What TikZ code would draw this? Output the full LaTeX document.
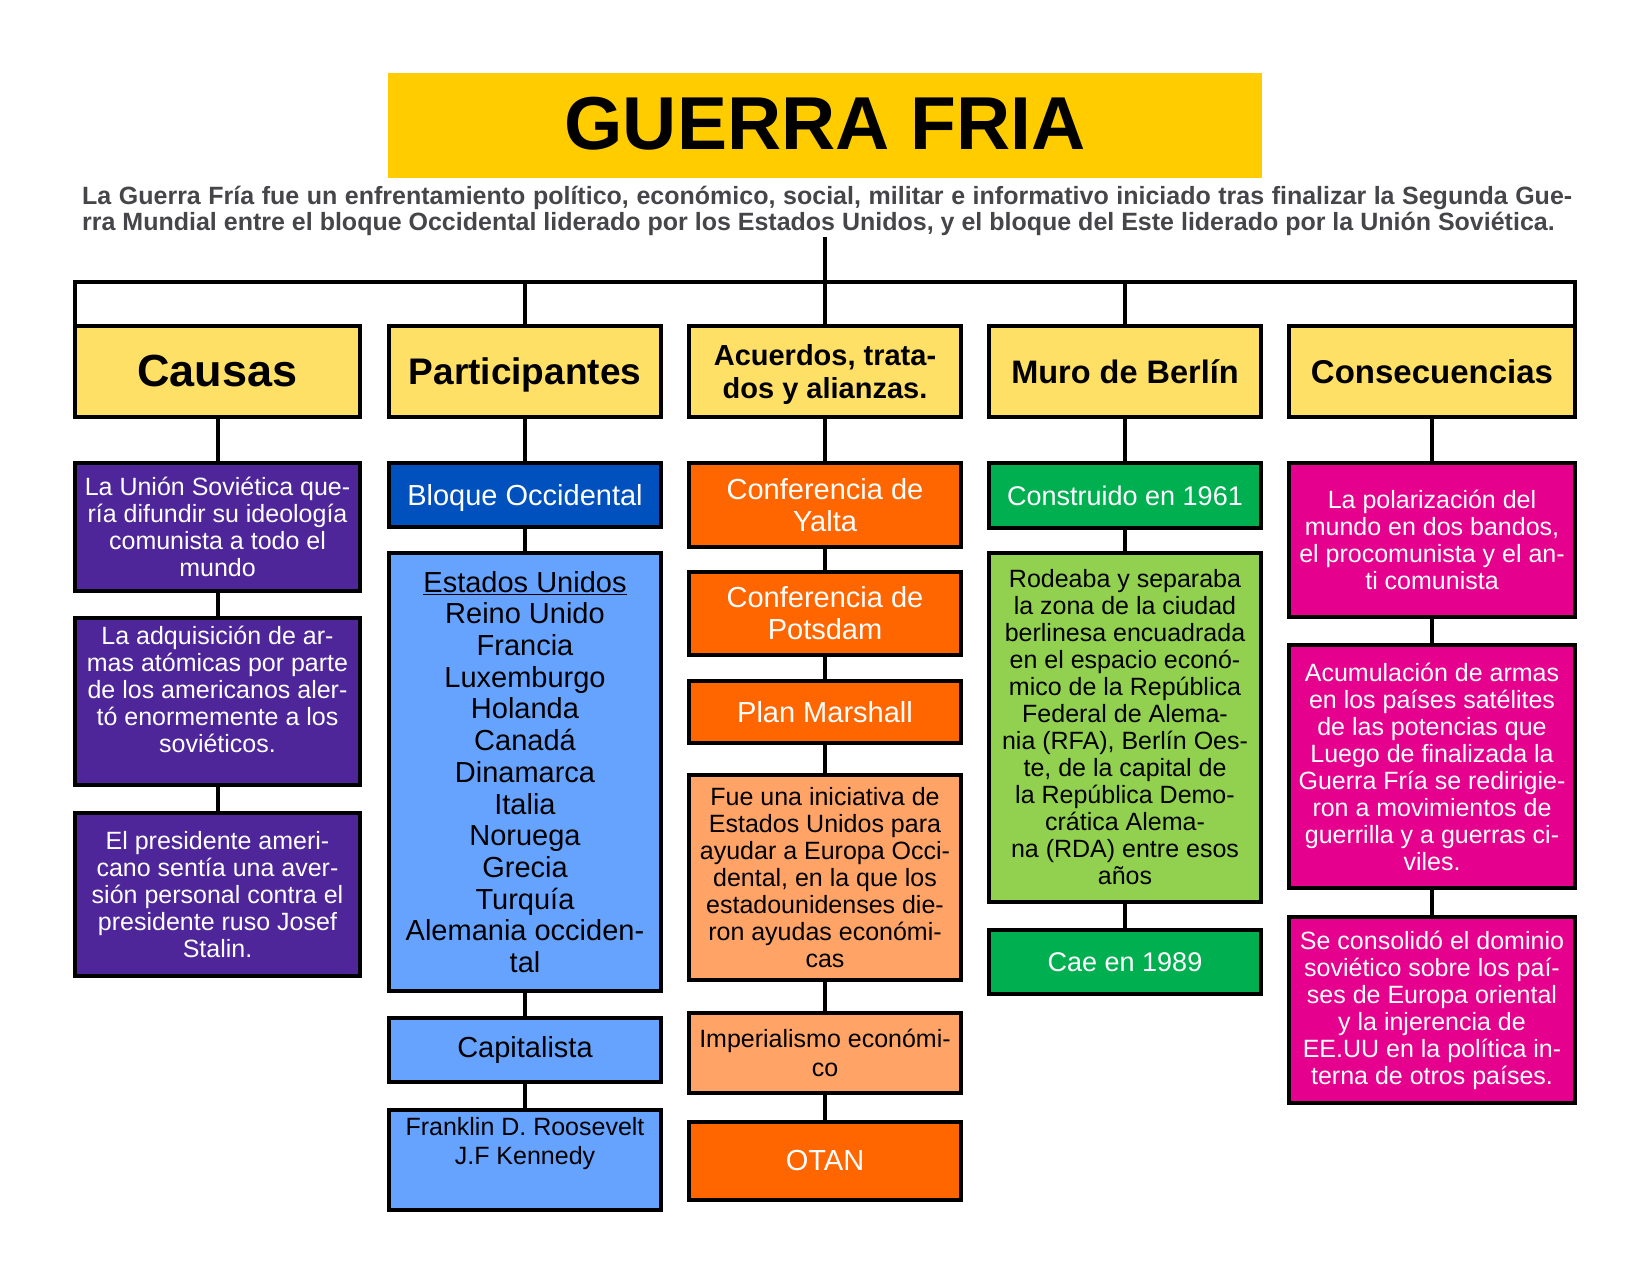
\documentclass[tikz,border=0pt]{standalone}
\usepackage{fontspec}
\setmainfont{Liberation Sans}
\definecolor{titleY}{HTML}{FFCC00}
\definecolor{hdrY}{HTML}{FFE066}
\definecolor{descG}{HTML}{46464A}
\definecolor{purp}{HTML}{4E2699}
\definecolor{dblue}{HTML}{0050BE}
\definecolor{lblue}{HTML}{66A3FF}
\definecolor{orng}{HTML}{FF6600}
\definecolor{lorng}{HTML}{FFA366}
\definecolor{grn}{HTML}{00B050}
\definecolor{lgrn}{HTML}{92D050}
\definecolor{mgnt}{HTML}{E6008E}
\newcommand\myfs[2]{\fontsize{#1}{#2}\selectfont}
% name, x1, y1, x2, y2, style, text
\newcommand\bx[7]{\node[#6, minimum width={(#4-#2)*1pt}, minimum height={(#5-#3)*1pt}] (#1) at ({(#2+#4)/2},{(#3+#5)/2}) {#7};}
\tikzset{
  box/.style={draw=black, line width=4pt, inner sep=0pt, align=center},
  hdr/.style={box, fill=hdrY, text=black},
  conn/.style={draw=black, line width=4pt},
  wtxt/.style={text=white, font=\myfs{25}{27}},
  btxt/.style={text=black, font=\myfs{25}{27}},
}
\begin{document}
\begin{tikzpicture}[x=1pt,y=-1pt]
\useasboundingbox[fill=white] (0,0) rectangle (1650,1275);
% title
\node[fill=titleY, inner sep=0pt, minimum width=874pt, minimum height=105pt] (title) at (825,125.5) {};
\node[anchor=base, inner sep=0pt, font=\bfseries\myfs{75}{80}] (titletxt) at (825,149) {GUERRA FRIA};
% description
\node[anchor=base west, inner sep=0pt, text=descG, font=\bfseries\myfs{25}{26}] (desc1) at (82,204)
  {\makebox[1490pt][s]{La Guerra Fría fue un enfrentamiento político, económico, social, militar e informativo iniciado tras finalizar la Segunda Gue-}};
\node[anchor=base west, inner sep=0pt, text=descG, font=\bfseries\myfs{25}{26}] (desc2) at (82,230)
  {rra Mundial entre el bloque Occidental liderado por los Estados Unidos, y el bloque del Este liderado por la Unión Soviética.};
% headers
\bx{causas}{75}{326}{360}{417}{hdr, font=\bfseries\myfs{45}{48}}{Causas}
\bx{part}{389}{326}{661}{417}{hdr, text depth=0pt, font=\bfseries\myfs{37}{40}}{Participantes}
\bx{acu}{689}{326}{961}{417}{hdr, text depth=0pt, font=\bfseries\myfs{29}{33}}{Acuerdos, trata-\\dos y alianzas.}
\bx{muro}{989}{326}{1261}{417}{hdr, font=\bfseries\myfs{32.5}{36}}{Muro de Berlín}
\bx{cons}{1289}{326}{1575}{417}{hdr, font=\bfseries\myfs{33}{36}}{Consecuencias}
% tree top
\coordinate (t0) at (825,237);
\coordinate (barL) at (75,282);
\coordinate (barR) at (1575,282);
\draw[conn, line join=miter] (barL |- causas.north) -- (barL) -- (barR) -- (barR |- cons.north);
\draw[conn] (t0) -- (t0 |- barL);
\draw[conn] (part.north) -- (part.north |- barL);
\draw[conn] (acu.north) -- (acu.north |- barL);
\draw[conn] (muro.north) -- (muro.north |- barL);
% column 1: Causas
\bx{c1}{75}{463}{360}{591}{box, fill=purp, wtxt}{La Unión Soviética que-\\ría difundir su ideología\\comunista a todo el\\mundo}
\bx{c2}{75}{618}{360}{785}{box, fill=purp, wtxt}{La adquisición de ar-\\mas atómicas por parte\\de los americanos aler-\\tó enormemente a los\\soviéticos.\\[-10pt]\strut}
\bx{c3}{75}{813}{360}{976}{box, fill=purp, wtxt}{El presidente ameri-\\cano sentía una aver-\\sión personal contra el\\presidente ruso Josef\\Stalin.}
% column 2: Participantes
\bx{p1}{389}{463}{661}{527}{box, fill=dblue, text=white, text depth=0pt, font=\myfs{29}{32}}{Bloque Occidental}
\bx{p2}{389}{553}{661}{991}{box, fill=lblue, text=black, font=\myfs{29}{31.7}}{\underline{Estados Unidos}\\Reino Unido\\Francia\\Luxemburgo\\Holanda\\Canadá\\Dinamarca\\Italia\\Noruega\\Grecia\\Turquía\\Alemania occiden-\\tal}
\bx{p3}{389}{1018}{661}{1082}{box, fill=lblue, text=black, font=\myfs{29}{32}}{Capitalista}
\bx{p4}{389}{1110}{661}{1210}{box, fill=lblue, text=black, font=\myfs{25}{29}}{Franklin D. Roosevelt\\J.F Kennedy\\\strut}
% column 3: Acuerdos
\bx{a1}{689}{463}{961}{547}{box, fill=orng, text=white, font=\myfs{29}{32}}{Conferencia de\\Yalta}
\bx{a2}{689}{572}{961}{655}{box, fill=orng, text=white, font=\myfs{29}{32}}{Conferencia de\\Potsdam}
\bx{a3}{689}{681}{961}{743}{box, fill=orng, text=white, font=\myfs{29}{32}}{Plan Marshall}
\bx{a4}{689}{775}{961}{980}{box, fill=lorng, btxt}{Fue una iniciativa de\\Estados Unidos para\\ayudar a Europa Occi-\\dental, en la que los\\estadounidenses die-\\ron ayudas económi-\\cas}
\bx{a5}{689}{1013}{961}{1093}{box, fill=lorng, text=black, font=\myfs{25}{29}}{Imperialismo económi-\\co}
\bx{a6}{689}{1122}{961}{1200}{box, fill=orng, text=white, font=\myfs{29}{32}}{OTAN}
% column 4: Muro
\bx{m1}{989}{463}{1261}{528}{box, fill=grn, text=white, font=\myfs{27}{30}}{Construido en 1961}
\bx{m2}{989}{553}{1261}{902}{box, fill=lgrn, btxt}{Rodeaba y separaba\\la zona de la ciudad\\berlinesa encuadrada\\en el espacio econó-\\mico de la República\\Federal de Alema-\\nia (RFA), Berlín Oes-\\te, de la capital de\\la República Demo-\\crática Alema-\\na (RDA) entre esos\\años}
\bx{m3}{989}{930}{1261}{994}{box, fill=grn, text=white, font=\myfs{27}{30}}{Cae en 1989}
% column 5: Consecuencias
\bx{k1}{1289}{463}{1575}{617}{box, fill=mgnt, wtxt}{La polarización del\\mundo en dos bandos,\\el procomunista y el an-\\ti comunista}
\bx{k2}{1289}{645}{1575}{888}{box, fill=mgnt, wtxt}{Acumulación de armas\\en los países satélites\\de las potencias que\\Luego de finalizada la\\Guerra Fría se redirigie-\\ron a movimientos de\\guerrilla y a guerras ci-\\viles.}
\bx{k3}{1289}{917}{1575}{1103}{box, fill=mgnt, wtxt}{Se consolidó el dominio\\soviético sobre los paí-\\ses de Europa oriental\\y la injerencia de\\EE.UU en la política in-\\terna de otros países.}
% connectors in columns
\draw[conn] (causas.south) -- (c1.north);
\draw[conn] (c1.south) -- (c2.north);
\draw[conn] (c2.south) -- (c3.north);
\draw[conn] (part.south) -- (p1.north);
\draw[conn] (p1.south) -- (p2.north);
\draw[conn] (p2.south) -- (p3.north);
\draw[conn] (p3.south) -- (p4.north);
\draw[conn] (acu.south) -- (a1.north);
\draw[conn] (a1.south) -- (a2.north);
\draw[conn] (a2.south) -- (a3.north);
\draw[conn] (a3.south) -- (a4.north);
\draw[conn] (a4.south) -- (a5.north);
\draw[conn] (a5.south) -- (a6.north);
\draw[conn] (muro.south) -- (m1.north);
\draw[conn] (m1.south) -- (m2.north);
\draw[conn] (m2.south) -- (m3.north);
\draw[conn] (cons.south) -- (k1.north);
\draw[conn] (k1.south) -- (k2.north);
\draw[conn] (k2.south) -- (k3.north);
\end{tikzpicture}
\end{document}
